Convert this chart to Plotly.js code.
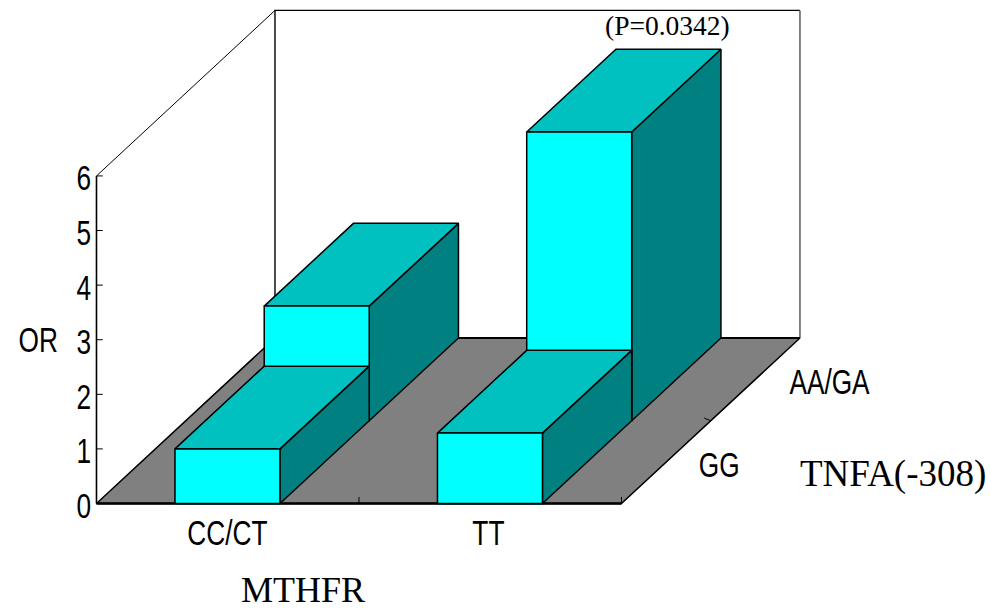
<!DOCTYPE html>
<html>
<head>
<meta charset="utf-8">
<script src="https://cdn.plot.ly/plotly-3.0.1.min.js"></script>
<style>html,body{margin:0;padding:0;background:#fff}#chart{width:990px;height:609px}</style>
</head>
<body>
<div id="chart"></div>
<script>
// Odds ratios by genotype combination
const mthfrCategories = ['CC/CT', 'TT'];
const tnfaCategories = ['GG', 'AA/GA'];
const orGG = [1.0, 1.29];
const orAAGA = [2.1, 5.29];
const orTicks = [0, 1, 2, 3, 4, 5, 6];
const pLabel = '(P=0.0342)';

const FRONT = '#00FFFF', TOP = '#00C0C0', SIDE = '#008080', FLOOR = '#808080';
const SANS = '"Liberation Sans",sans-serif';
const SERIF = '"Liberation Serif",serif';
const NARROW = 0.75;

// Oblique projection: each unit of depth shifts a point right and up
const DX = 0.34, DZ = 1.5156;
const proj = (x, d, z) => [x + d * DX, z + d * DZ];

const traces = [];
function poly(corners, fill, width, color) {
  const pts = corners.map(c => proj(c[0], c[1], c[2]));
  const closed = fill ? pts.concat([pts[0]]) : pts;
  traces.push({
    x: closed.map(p => p[0]), y: closed.map(p => p[1]),
    mode: 'lines', type: 'scatter', hoverinfo: 'skip', showlegend: false,
    fill: fill ? 'toself' : 'none', fillcolor: fill || undefined,
    line: {color: color || '#000', width: width || 1.5, simplify: false}
  });
}

function bar(cat, row, value) {
  const x0 = cat + 0.299, x1 = cat + 0.699, d0 = row, d1 = row + 1;
  poly([[x1, d0, 0], [x1, d1, 0], [x1, d1, value], [x1, d0, value]], SIDE);
  poly([[x0, d0, value], [x1, d0, value], [x1, d1, value], [x0, d1, value]], TOP);
  poly([[x0, d0, 0], [x1, d0, 0], [x1, d0, value], [x0, d0, value]], FRONT);
}

// Walls and floor
poly([[0, 0, 0], [2, 0, 0], [2, 2, 0], [0, 2, 0]], FLOOR, 1.5);
poly([[0, 2, 0], [0, 2, 6], [2, 2, 6]], null, 1.4);
poly([[2, 2, 6], [2, 2, 0]], null, 1.6, '#666');
poly([[0, 0, 6], [0, 2, 6]], null, 1);
poly([[0, 2, 0], [2, 2, 0]], null, 2);
poly([[0, 0, 0], [0, 0, 6]], null, 1.6);
poly([[0, 0, 0], [2, 0, 0]], null, 2.4);

// Back row first so the front row overlaps it
orAAGA.forEach((v, i) => bar(i, 1, v));
orGG.forEach((v, i) => bar(i, 0, v));

// Tick marks
orTicks.forEach(t => poly([[0, 0, t], [0.024, 0, t]], null, 1));
poly([[1, 0, 0], [1, 0, 0.12]], null, 1);
poly([[2, 0, 0], [2, 0, 0.12]], null, 1);
poly([[2, 1, 0], [1.975, 1, 0.05]], null, 1);

function label(text, at, xshift, yshift, size, family) {
  const p = proj(at[0], at[1], at[2]);
  return {
    text, x: p[0], y: p[1], xref: 'x', yref: 'y', xshift, yshift,
    xanchor: 'center', yanchor: 'middle', showarrow: false,
    font: {family, size, color: '#000'}
  };
}

const annotations = [];
orTicks.forEach(t => annotations.push(label(String(t), [0, 0, t], -13, -2, 35, SANS)));
annotations.push(label(mthfrCategories[0], [0.5, 0, 0], 0, -29, 35, SANS));
annotations.push(label(mthfrCategories[1], [1.5, 0, 0], -2, -29, 35, SANS));
annotations.push(label(tnfaCategories[0], [2, 0.5, 0], 53, -2, 35, SANS));
annotations.push(label(tnfaCategories[1], [2, 1.5, 0], 75, -2, 35, SANS));
annotations.push(label('OR', [0, 0, 3], -58, 0, 35, SANS));
annotations.push(label('MTHFR', [1, 0, 0], -56, -86, 36, SERIF));
annotations.push(label('TNFA(-308)', [2, 0, 0], 272, 30, 37, SERIF));
annotations.push(label(pLabel, [1.5, 2, 6], -1, -15, 27.5, SERIF));

const layout = {
  width: 990, height: 609,
  margin: {l: 0, r: 0, t: 0, b: 0},
  paper_bgcolor: '#fff', plot_bgcolor: '#fff',
  showlegend: false,
  xaxis: {range: [-0.3676, 3.404], visible: false, fixedrange: true},
  yaxis: {range: [-1.932, 9.222], visible: false, fixedrange: true},
  annotations
};

// The axis labels use a condensed sans: squeeze the glyphs horizontally
function condenseLabels() {
  const narrowTexts = new Set([...orTicks.map(String), ...mthfrCategories, ...tnfaCategories, 'OR']);
  document.querySelectorAll('#chart text.annotation-text').forEach(el => {
    if (!narrowTexts.has(el.textContent)) return;
    el.setAttribute('textLength', (el.getComputedTextLength() * NARROW).toFixed(1));
    el.setAttribute('lengthAdjust', 'spacingAndGlyphs');
  });
}

Plotly.newPlot('chart', traces, layout, {displayModeBar: false, staticPlot: true}).then(condenseLabels);
</script>
</body>
</html>
